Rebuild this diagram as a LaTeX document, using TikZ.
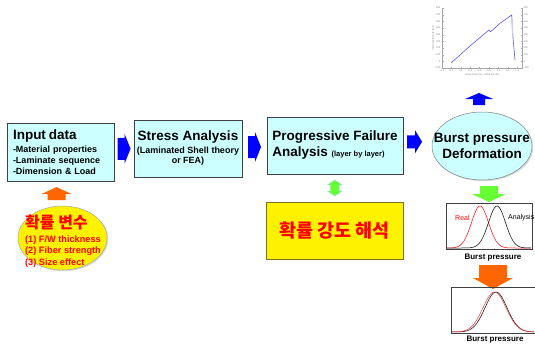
\documentclass[tikz,border=0pt]{standalone}
\usepackage{fontspec}
\setmainfont{Liberation Sans}
\newfontfamily\krfont{Noto Sans CJK KR}
\usetikzlibrary{positioning,calc,shapes.geometric,shadows}

\definecolor{boxcyan}{HTML}{CCFFFF}
\definecolor{boxgray}{HTML}{404040}
\definecolor{arrblue}{HTML}{0000FF}
\definecolor{arrorange}{HTML}{FF6600}
\definecolor{arrgreen}{HTML}{66FF33}
\definecolor{plotblue}{HTML}{5555EE}

\tikzset{
    stepbox/.style={draw=boxgray, fill=boxcyan, line width=0.7pt, inner sep=0pt,
        drop shadow={shadow xshift=1.2pt, shadow yshift=-1.2pt, opacity=0.3}},
    headtxt/.style={font=\bfseries\fontsize{13.5}{16}\selectfont},
    ticklbl/.style={font=\fontsize{2.5}{3}\selectfont, text=gray, inner sep=0.5pt},
    plotbox/.style={draw=boxgray, line width=0.5pt, inner sep=0pt},
    pics/blockarr/.style n args={4}{code={
        \path[fill] (-#1/2,-#3) -- ({#1/2-#2},-#3) -- ({#1/2-#2},-#4) -- (#1/2,0)
            -- ({#1/2-#2},#4) -- ({#1/2-#2},#3) -- (-#1/2,#3) -- cycle;
    }},
    pics/dblarr/.style n args={4}{code={
        \path[fill, draw] (-#1/2,0) -- ({-#1/2+#2},-#4) -- ({-#1/2+#2},-#3) -- ({#1/2-#2},-#3)
            -- ({#1/2-#2},-#4) -- (#1/2,0) -- ({#1/2-#2},#4) -- ({#1/2-#2},#3)
            -- ({-#1/2+#2},#3) -- ({-#1/2+#2},#4) -- cycle;
    }},
}

\begin{document}
\begin{tikzpicture}[x=1pt, y=-1pt]
    \useasboundingbox (0,0) rectangle (535,343);

    \node[stepbox, minimum width=107pt, minimum height=58pt, text width=95pt, align=left,
        font=\bfseries\fontsize{9}{11}\selectfont] (input) at (60.5,152)
        {{\fontsize{13.5}{16}\selectfont Input data}\\[1.5pt]
         -Material properties\\ -Laminate sequence\\ -Dimension \& Load};
    \node[stepbox, minimum width=108pt, minimum height=57pt, align=center,
        font=\bfseries\fontsize{9}{10.5}\selectfont] (stress) at (188,148.5)
        {{\fontsize{13.5}{16}\selectfont Stress Analysis}\\[2pt]
         (Laminated Shell theory\\ or FEA)};
    \node[stepbox, minimum width=136pt, minimum height=57pt, align=left, headtxt] (prog) at (335,145.5)
        {Progressive Failure\\ Analysis {\fontsize{7.5}{9}\selectfont (layer by layer)}};
    \node[ellipse, draw=gray, fill=boxcyan, line width=0.5pt, minimum width=100pt, minimum height=68pt,
        inner sep=0pt, drop shadow={shadow xshift=1.2pt, shadow yshift=-1.2pt, opacity=0.3}] (burst) at (482,146) {};
    \node[align=center, headtxt, inner sep=0pt] (burstlbl) at (burst.center) {Burst pressure\\ Deformation};

    \node[ellipse, draw=gray!70, fill=yellow, line width=0.5pt, minimum width=89pt, minimum height=64pt,
        inner sep=0pt, drop shadow={shadow xshift=1.2pt, shadow yshift=-1.2pt, opacity=0.3}] (randvar) at (62.5,238) {};
    \node[align=left, text=red, inner sep=0pt, font=\bfseries\fontsize{9.2}{11.5}\selectfont] (randlbl) at (63,241)
        {{\krfont\bfseries\fontsize{16}{18}\selectfont 확률 변수}\\[2pt]
         (1) F/W thickness\\ (2) Fiber strength\\ (3) Size effect};
    \node[draw=olive!80!black, fill=yellow, line width=0.7pt, minimum width=137pt, minimum height=57pt,
        inner sep=0pt, text=red, font=\krfont\bfseries\fontsize{18.5}{20}\selectfont,
        drop shadow={shadow xshift=1.2pt, shadow yshift=-1.2pt, opacity=0.3}] (probstr) at (334.5,230.5)
        {확률 강도 해석};

    % arrows between the steps
    \pic[fill=arrblue] (arr1) at ($(input.east)!0.5!(stress.west)+(0,-1.5)$) {blockarr={13}{6}{11}{15}};
    \pic[fill=arrblue] (arr2) at ($(stress.east)!0.5!(prog.west)$) {blockarr={13}{6}{11}{15}};
    \pic[fill=arrblue] (arr3) at ($(prog.east)!0.5!(burst.west)+(-3,-4)$) {blockarr={15}{7}{6.5}{11.5}};
    \pic[fill=arrblue, rotate=90] (arrup) at (479,99) {blockarr={12}{6}{6}{14}};
    \pic[fill=arrorange, rotate=90] (arrvar) at ($(randvar.north)!0.5!(input.south)+(-5,0)$) {blockarr={13}{7}{9}{15}};
    \pic[fill=arrgreen, draw=cyan!40, line width=0.3pt, rotate=90] (arrlink)
        at ($(prog.south)!0.5!(probstr.north)$) {dblarr={16}{5}{4.5}{7.5}};
    \pic[fill=arrgreen, rotate=-90] (arrdown) at (489,194) {blockarr={16}{8}{9}{17}};
    \pic[fill=arrorange, rotate=-90] (arrfit) at (493,277) {blockarr={24}{11}{14}{20}};

    % burst test curve
    \draw[gray!70, line width=0.4pt] (442,8) -- (442,68) -- (522,68) -- (522,8);
    \foreach \v [count=\i] in {-100,0,100,200,300,400,500,600,700,800} {
        \draw[gray!70, line width=0.3pt] (442,{68-(\v+100)/15}) -- ++(1.5,0);
        \draw[gray!70, line width=0.3pt] (522,{68-(\v+100)/15}) -- ++(-1.5,0);
        \node[ticklbl, anchor=east] (yl\i) at (441,{68-(\v+100)/15}) {\v};
        \node[ticklbl, anchor=west] (yr\i) at (523,{68-(\v+100)/15}) {\v};
    }
    \foreach \u [count=\i] in {-0.2,0.0,0.2,0.4,0.6,0.8,1.0,1.2,1.4} {
        \draw[gray!70, line width=0.3pt] ({442+(\u+0.2)*47},68) -- ++(0,-1.5);
        \node[ticklbl, anchor=north] (xl\i) at ({442+(\u+0.2)*47},69) {\u};
    }
    \node[ticklbl, anchor=north] (xtitle) at (482,73) {Hoop strain (\%), (2266-FG-46)};
    \node[ticklbl, rotate=90, anchor=south] (ytitle) at (435,38) {Internal pressure (bar)};
    \draw[plotblue, line width=0.6pt] (451,63) -- (470,46) -- (489,30) -- (490.5,31.7) -- (492,30.5)
        -- (500,23.3) -- (504,20.5) -- (511.7,15) -- (513,38) -- (515,60);
    \draw[blue!20, line width=1.3pt] (512,19) -- (512.6,34);

    % distributions
    \node[plotbox, minimum width=86pt, minimum height=46pt] (dist1) at (489,226) {};
    \draw[red, line width=0.5pt] plot[domain=447:531, samples=80] (\x,{248-42*exp(-((\x-480)^2)/(2*8.5^2))});
    \draw[black, line width=0.5pt] plot[domain=447:531, samples=80] (\x,{248-42*exp(-((\x-497)^2)/(2*8.5^2))});
    \node[text=red, font=\fontsize{7}{8}\selectfont, inner sep=0pt, anchor=west] (real) at (455,218) {Real};
    \node[font=\fontsize{7}{8}\selectfont, inner sep=0pt, anchor=west] (anal) at (508,218) {Analysis};
    \node[font=\bfseries\fontsize{8}{9}\selectfont, inner sep=0pt] (lbl1) at (493,258) {Burst pressure};

    \node[plotbox, minimum width=86pt, minimum height=46pt] (dist2) at (494,310) {};
    \draw[black, line width=0.5pt] plot[domain=452:534, samples=80] (\x,{332-40*exp(-((\x-496)^2)/(2*11^2))});
    \draw[red!80, line width=0.5pt] plot[domain=452:534, samples=80] (\x,{332-40*exp(-((\x-494.5)^2)/(2*11.5^2))});
    \node[font=\bfseries\fontsize{8}{9}\selectfont, inner sep=0pt] (lbl2) at (495,340) {Burst pressure};
\end{tikzpicture}
\end{document}
